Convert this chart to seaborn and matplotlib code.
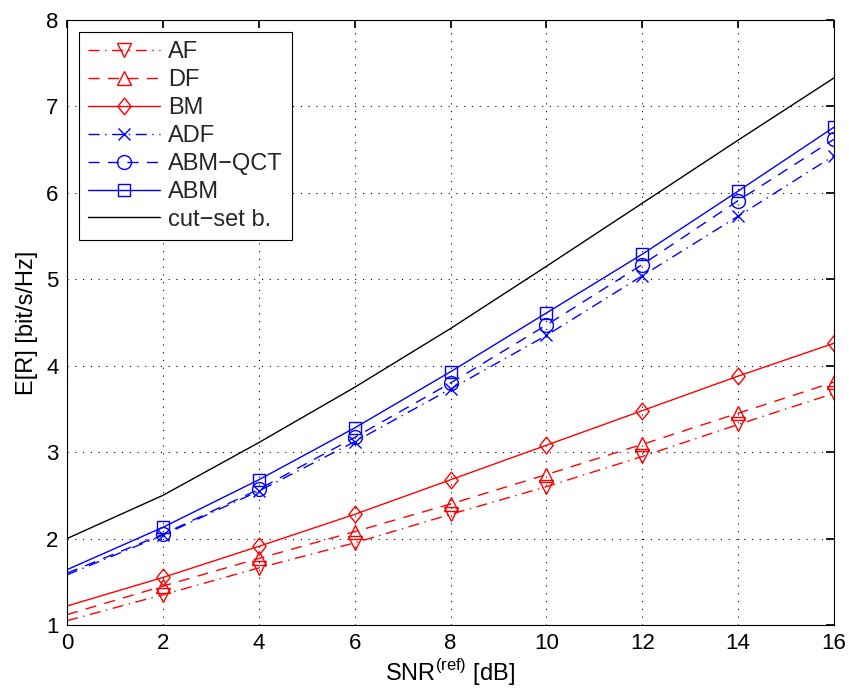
import numpy as np
import pandas as pd
import matplotlib
matplotlib.use("Agg")
import matplotlib.pyplot as plt
from matplotlib.path import Path
import seaborn as sns

sns.set_theme(style="white")
plt.rcParams['font.family'] = ['Liberation Sans', 'DejaVu Sans']
plt.rcParams['mathtext.fontset'] = 'custom'
plt.rcParams['mathtext.rm'] = 'Liberation Sans'

snr = [0, 2, 4, 6, 8, 10, 12, 14, 16]

af = [1.05, 1.35, 1.66, 1.95, 2.28, 2.60, 2.95, 3.32, 3.68]
df_ = [1.12, 1.45, 1.77, 2.08, 2.40, 2.74, 3.09, 3.45, 3.81]
bm = [1.22, 1.55, 1.91, 2.28, 2.68, 3.08, 3.48, 3.88, 4.26]
adf = [1.58, 2.04, 2.55, 3.12, 3.73, 4.35, 5.04, 5.73, 6.43]
abm_qct = [1.60, 2.05, 2.57, 3.17, 3.80, 4.47, 5.17, 5.91, 6.62]
abm = [1.64, 2.13, 2.68, 3.28, 3.93, 4.61, 5.29, 6.02, 6.76]
cutset = [2.00, 2.50, 3.11, 3.75, 4.43, 5.15, 5.88, 6.61, 7.33]

series_names = ["AF", "DF", "BM", "ADF", "ABM\u2212QCT", "ABM", "cut\u2212set b."]
series_vals = [af, df_, bm, adf, abm_qct, abm, cutset]

# tall diamond marker
diamond = Path([(0, 1), (0.8, 0), (0, -1), (-0.8, 0), (0, 1)],
               [Path.MOVETO, Path.LINETO, Path.LINETO, Path.LINETO, Path.CLOSEPOLY])

dashed = (0, (8, 6))
dashdot = (0, (8, 4, 1, 4))
styles = [
    dict(color="red", ls=dashdot, marker="v", ms=10),
    dict(color="red", ls=dashed, marker="^", ms=10),
    dict(color="red", ls="-", marker=diamond, ms=12),
    dict(color="blue", ls=dashdot, marker="x", ms=8.5),
    dict(color="blue", ls=dashed, marker="o", ms=10),
    dict(color="blue", ls="-", marker="s", ms=8.5),
    dict(color="black", ls="-", marker=None, ms=0),
]

long = pd.DataFrame(
    [(n, x, y) for n, vals in zip(series_names, series_vals) for x, y in zip(snr, vals)],
    columns=["series", "snr", "rate"],
)

fig = plt.figure(figsize=(8.49, 6.96), dpi=100)
ax = fig.add_axes([67 / 849, 71 / 696, 767 / 849, 605 / 696])

for name, st in zip(series_names, styles):
    sub = long[long["series"] == name]
    kw = dict(color=st["color"], linestyle=st["ls"], linewidth=1.0, label=name)
    if st["marker"] is not None:
        kw.update(marker=st["marker"], markersize=st["ms"], markerfacecolor="none",
                  markeredgecolor=st["color"], markeredgewidth=1.0,
                  markevery=list(range(1, len(sub))))
    sns.lineplot(data=sub, x="snr", y="rate", ax=ax, estimator=None, sort=False, **kw)

ax.set_xlim(0, 16)
ax.set_ylim(1, 8)
ax.set_xticks(range(0, 17, 2))
ax.set_yticks(range(1, 9))
ax.grid(True, linestyle=(0, (1, 6)), color="black", linewidth=0.8)
ax.tick_params(direction="in", top=True, right=True, labelsize=16, length=6,
               colors="black", pad=6)
for sp in ax.spines.values():
    sp.set_color("black")
    sp.set_linewidth(0.8)
ax.set_xlabel("SNR$^{\\mathregular{(ref)}}$ [dB]", fontsize=17, color="black", labelpad=2)
ax.set_ylabel("E[R] [bit/s/Hz]", fontsize=17, color="black", labelpad=6)

leg = ax.legend(loc="upper left", fontsize=17, frameon=True, fancybox=False,
                edgecolor="black", handlelength=3.05, borderaxespad=0.5,
                labelspacing=0.25, handletextpad=0.34, borderpad=0.4)
leg.get_frame().set_linewidth(0.8)
leg.get_frame().set_alpha(1.0)

fig.savefig("out.png", dpi=100)
